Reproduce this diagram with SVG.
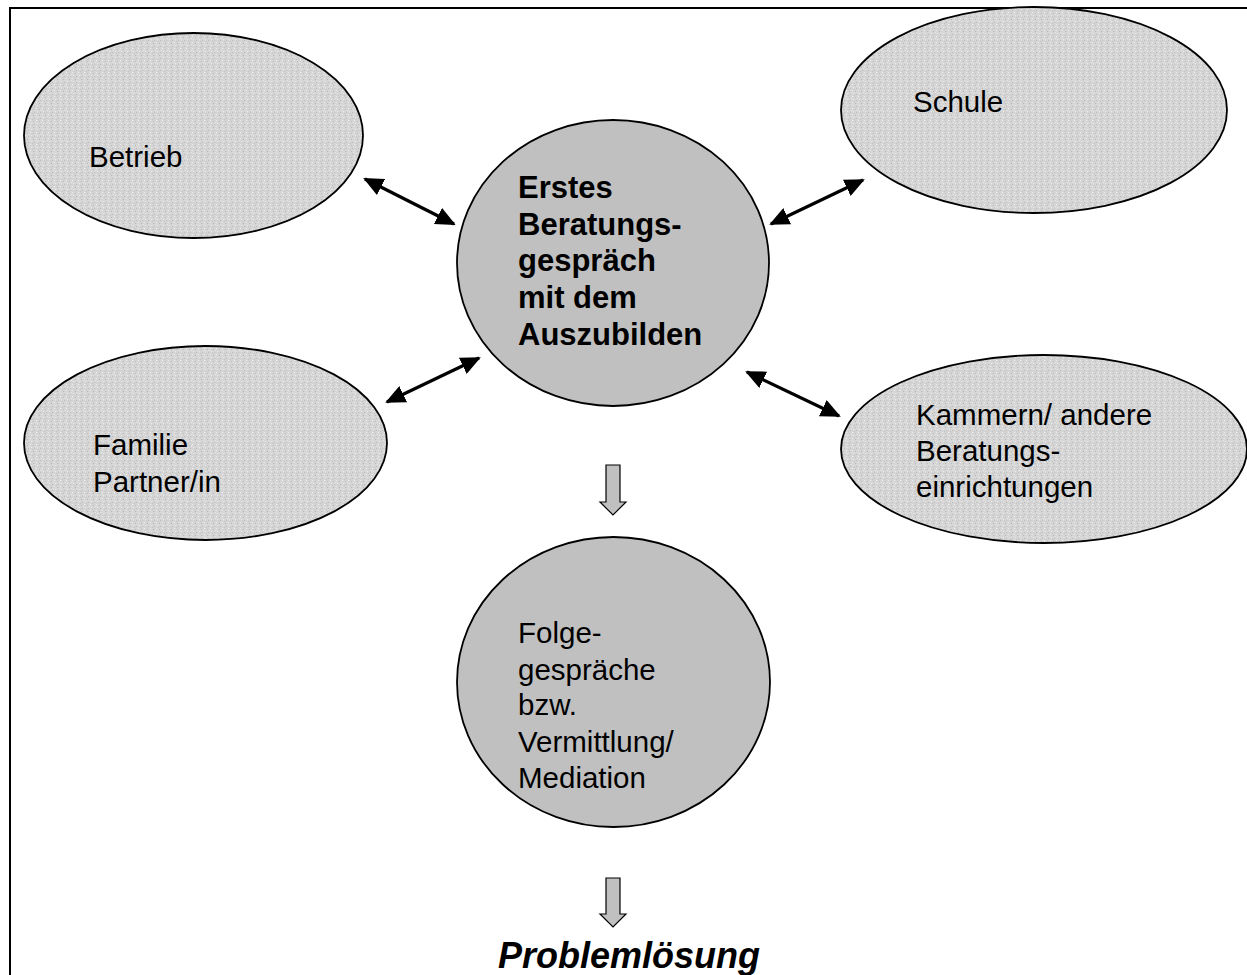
<svg xmlns="http://www.w3.org/2000/svg" width="1247" height="975" viewBox="0 0 1247 975">
<style>
.frame{fill:none;stroke:#000;stroke-width:2}
.outer{fill:url(#stipple);stroke:#000;stroke-width:1.8}
.inner{fill:#c0c0c0;stroke:#000;stroke-width:1.8}
.t{font-family:"Liberation Sans",Arial,sans-serif;font-size:29.5px;fill:#000}
.tb{font-family:"Liberation Sans",Arial,sans-serif;font-size:31px;font-weight:bold;fill:#000}
.ti{font-family:"Liberation Sans",Arial,sans-serif;font-size:36px;font-weight:bold;font-style:italic;fill:#000}
.conn{stroke:#000;stroke-width:3.2;fill:none;marker-start:url(#ah);marker-end:url(#ah)}
.block{fill:#c0c0c0;stroke:#000;stroke-width:1.2}
</style>
<defs>
<pattern id="stipple" width="6" height="6" patternUnits="userSpaceOnUse">
<rect width="6" height="6" fill="#d5d5d5"/>
<rect x="0" y="0" width="1" height="1" fill="#eeeeee"/>
<rect x="3" y="1" width="1" height="1" fill="#b8b8b8"/>
<rect x="1" y="3" width="1" height="1" fill="#eaeaea"/>
<rect x="4" y="4" width="1" height="1" fill="#bcbcbc"/>
<rect x="5" y="2" width="1" height="1" fill="#e6e6e6"/>
<rect x="2" y="5" width="1" height="1" fill="#c2c2c2"/>
</pattern>
<marker id="ah" viewBox="0 0 10 10" refX="9" refY="5" markerWidth="20" markerHeight="18" markerUnits="userSpaceOnUse" orient="auto-start-reverse" preserveAspectRatio="none">
<path d="M0,0 L10,5 L0,10 z" fill="#000"/>
</marker>
</defs>
<rect class="frame" x="10" y="8" width="1260" height="1000"/>
<g id="connectors">
<line class="conn" x1="365" y1="179" x2="454" y2="224"/>
<line class="conn" x1="387" y1="402" x2="479" y2="358"/>
<line class="conn" x1="771" y1="224" x2="863" y2="180"/>
<line class="conn" x1="747" y1="372" x2="839" y2="416"/>
<path class="block" d="M606,465 L620,465 L620,502 L626,502 L613,515 L600,502 L606,502 Z"/>
<path class="block" d="M606,878 L620,878 L620,914 L626,914 L613,927 L600,914 L606,914 Z"/>
</g>
<g id="betrieb">
<ellipse class="outer" cx="193.5" cy="135.5" rx="169.5" ry="102.5"/>
<text class="t" x="89" y="167">Betrieb</text>
</g>
<g id="schule">
<ellipse class="outer" cx="1034" cy="110" rx="193" ry="103"/>
<text class="t" x="913" y="112">Schule</text>
</g>
<g id="familie">
<ellipse class="outer" cx="205.5" cy="443" rx="181.5" ry="97"/>
<text class="t" x="93" y="455">Familie</text>
<text class="t" x="93" y="492">Partner/in</text>
</g>
<g id="kammern">
<ellipse class="outer" cx="1044" cy="449" rx="203" ry="94"/>
<text class="t" x="916" y="425">Kammern/ andere</text>
<text class="t" x="916" y="461">Beratungs-</text>
<text class="t" x="916" y="497">einrichtungen</text>
</g>
<g id="erstes">
<ellipse class="inner" cx="613" cy="263" rx="156" ry="143"/>
<text class="tb" x="518" y="198">Erstes</text>
<text class="tb" x="518" y="235">Beratungs-</text>
<text class="tb" x="518" y="271">gespräch</text>
<text class="tb" x="518" y="308">mit dem</text>
<text class="tb" x="518" y="345">Auszubilden</text>
</g>
<g id="folge">
<ellipse class="inner" cx="613.5" cy="682" rx="156.5" ry="145"/>
<text class="t" x="518" y="643">Folge-</text>
<text class="t" x="518" y="680">gespräche</text>
<text class="t" x="518" y="715">bzw.</text>
<text class="t" x="518" y="752">Vermittlung/</text>
<text class="t" x="518" y="788">Mediation</text>
</g>
<g id="problemloesung">
<text class="ti" x="498" y="968">Problemlösung</text>
</g>
</svg>
